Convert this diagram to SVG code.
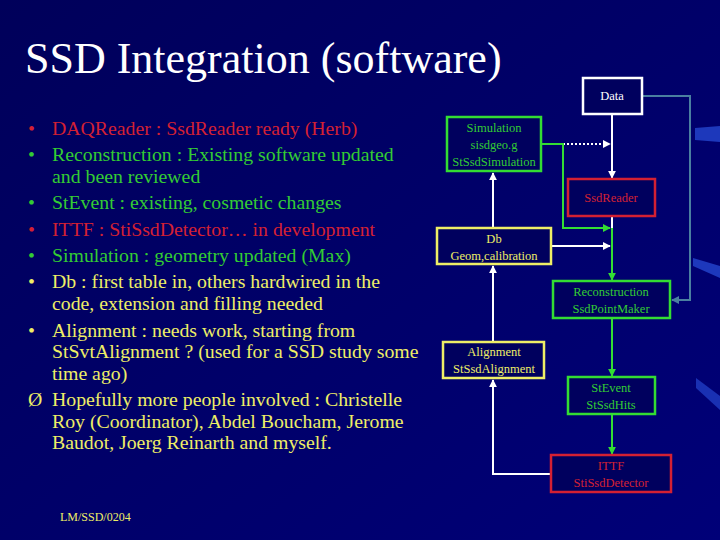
<svg xmlns="http://www.w3.org/2000/svg" width="720" height="540" viewBox="0 0 720 540" font-family="'Liberation Serif','DejaVu Serif',serif">
<defs>
<linearGradient id="bg" x1="0" y1="0" x2="1" y2="1"><stop offset="0" stop-color="#00005a"/><stop offset="1" stop-color="#000078"/></linearGradient>
<marker id="aw" viewBox="0 0 10 10" refX="9" refY="5" markerWidth="4" markerHeight="4" orient="auto"><path d="M0,0L10,5L0,10z" fill="#fff"/></marker>
<marker id="ag" viewBox="0 0 10 10" refX="9" refY="5" markerWidth="4" markerHeight="4" orient="auto"><path d="M0,0L10,5L0,10z" fill="#33dd33"/></marker>
<marker id="at" viewBox="0 0 10 10" refX="9" refY="5" markerWidth="4" markerHeight="4" orient="auto"><path d="M0,0L10,5L0,10z" fill="#4a7fa0"/></marker>
</defs>
<style>
text{font-family:'Liberation Serif','DejaVu Serif',serif}
.b{font-size:19.8px}
.n{font-size:12.5px;text-anchor:middle}
.r{fill:#d42033}.g{fill:#33cc33}.y{fill:#eeee66}.w{fill:#fff}
rect.box{fill:#00005e;stroke-width:2.5}
.lw{stroke:#fff;stroke-width:2;fill:none}
.lg{stroke:#33dd33;stroke-width:2;fill:none}
</style>
<rect width="720" height="540" fill="url(#bg)"/>
<path d="M695,128 L720,126 L720,142 L695,140z" fill="#2a50dd" opacity="0.7"/>
<path d="M693,258 L720,266 L720,278 L693,266z" fill="#2a50dd" opacity="0.7"/>
<path d="M696,378 L720,396 L720,410 L696,388z" fill="#2a50dd" opacity="0.6"/>
<text x="25" y="73" class="w" font-size="44">SSD Integration (software)</text>
<g class="b">
<text x="28" y="135" class="r">•</text><text x="52" y="135" class="r">DAQReader : SsdReader ready (Herb)</text>
<text x="28" y="161" class="g">•</text><text x="52" y="161" class="g">Reconstruction : Existing software updated</text>
<text x="52" y="183" class="g">and been reviewed</text>
<text x="28" y="209" class="g">•</text><text x="52" y="209" class="g">StEvent : existing, cosmetic changes</text>
<text x="28" y="236" class="r">•</text><text x="52" y="236" class="r">ITTF : StiSsdDetector… in development</text>
<text x="28" y="262" class="g">•</text><text x="52" y="262" class="g">Simulation : geometry updated (Max)</text>
<text x="28" y="288" class="y">•</text><text x="52" y="288" class="y">Db : first table in, others hardwired in the</text>
<text x="52" y="310" class="y">code, extension and filling needed</text>
<text x="28" y="337" class="y">•</text><text x="52" y="337" class="y">Alignment : needs work, starting from</text>
<text x="52" y="358" class="y">StSvtAlignment ? (used for a SSD study some</text>
<text x="52" y="380" class="y">time ago)</text>
<text x="28" y="406" class="y">Ø</text><text x="52" y="406" class="y">Hopefully more people involved : Christelle</text>
<text x="52" y="428" class="y">Roy (Coordinator), Abdel Boucham, Jerome</text>
<text x="52" y="449" class="y">Baudot, Joerg Reinarth and myself.</text>
</g>
<text x="60" y="521" class="y" font-size="12">LM/SSD/0204</text>
<g id="connectors">
<path class="lw" d="M612,114V178" marker-end="url(#aw)"/>
<path d="M563,144H610" stroke="#fff" stroke-width="2" stroke-dasharray="2,2" fill="none" marker-end="url(#aw)"/>
<path class="lg" d="M541,144H563V228H610" marker-end="url(#ag)"/>
<path class="lw" d="M551,246H610" marker-end="url(#aw)"/>
<path class="lw" d="M612,216V228"/>
<path class="lg" d="M612,228V280" marker-end="url(#ag)"/>
<path d="M642,96H690V300H672" stroke="#4a7fa0" stroke-width="2" fill="none" marker-end="url(#at)"/>
<path class="lw" d="M493,228V173" marker-end="url(#aw)"/>
<path class="lw" d="M493,342V266" marker-end="url(#aw)"/>
<path class="lg" d="M612,318V376" marker-end="url(#ag)"/>
<path class="lg" d="M612,414V454" marker-end="url(#ag)"/>
<path class="lw" d="M551,474H493V380" marker-end="url(#aw)"/>
</g>
<g id="data"><rect class="box" x="583" y="78" width="59" height="36" stroke="#fff"/><text x="612" y="100" class="n w">Data</text></g>
<g id="sim"><rect class="box" x="447" y="117" width="94" height="54" stroke="#33dd33"/><text x="494" y="132" class="n g">Simulation</text><text x="494" y="149" class="n g">sisdgeo.g</text><text x="494" y="166" class="n g">StSsdSimulation</text></g>
<g id="reader"><rect class="box" x="568" y="179" width="87" height="37" stroke="#d42033"/><text x="611" y="202" class="n r">SsdReader</text></g>
<g id="db"><rect class="box" x="437" y="228" width="114" height="36" stroke="#eeee66"/><text x="494" y="243" class="n y">Db</text><text x="494" y="260" class="n y">Geom,calibration</text></g>
<g id="reco"><rect class="box" x="553" y="281" width="117" height="37" stroke="#33dd33"/><text x="611" y="296" class="n g">Reconstruction</text><text x="611" y="313" class="n g">SsdPointMaker</text></g>
<g id="align"><rect class="box" x="443" y="342" width="101" height="36" stroke="#eeee66"/><text x="494" y="356" class="n y">Alignment</text><text x="494" y="373" class="n y">StSsdAlignment</text></g>
<g id="stevent"><rect class="box" x="568" y="377" width="87" height="37" stroke="#33dd33"/><text x="611" y="392" class="n g">StEvent</text><text x="611" y="409" class="n g">StSsdHits</text></g>
<g id="ittf"><rect class="box" x="551" y="455" width="120" height="37" stroke="#d42033"/><text x="611" y="470" class="n r">ITTF</text><text x="611" y="487" class="n r">StiSsdDetector</text></g>
</svg>
